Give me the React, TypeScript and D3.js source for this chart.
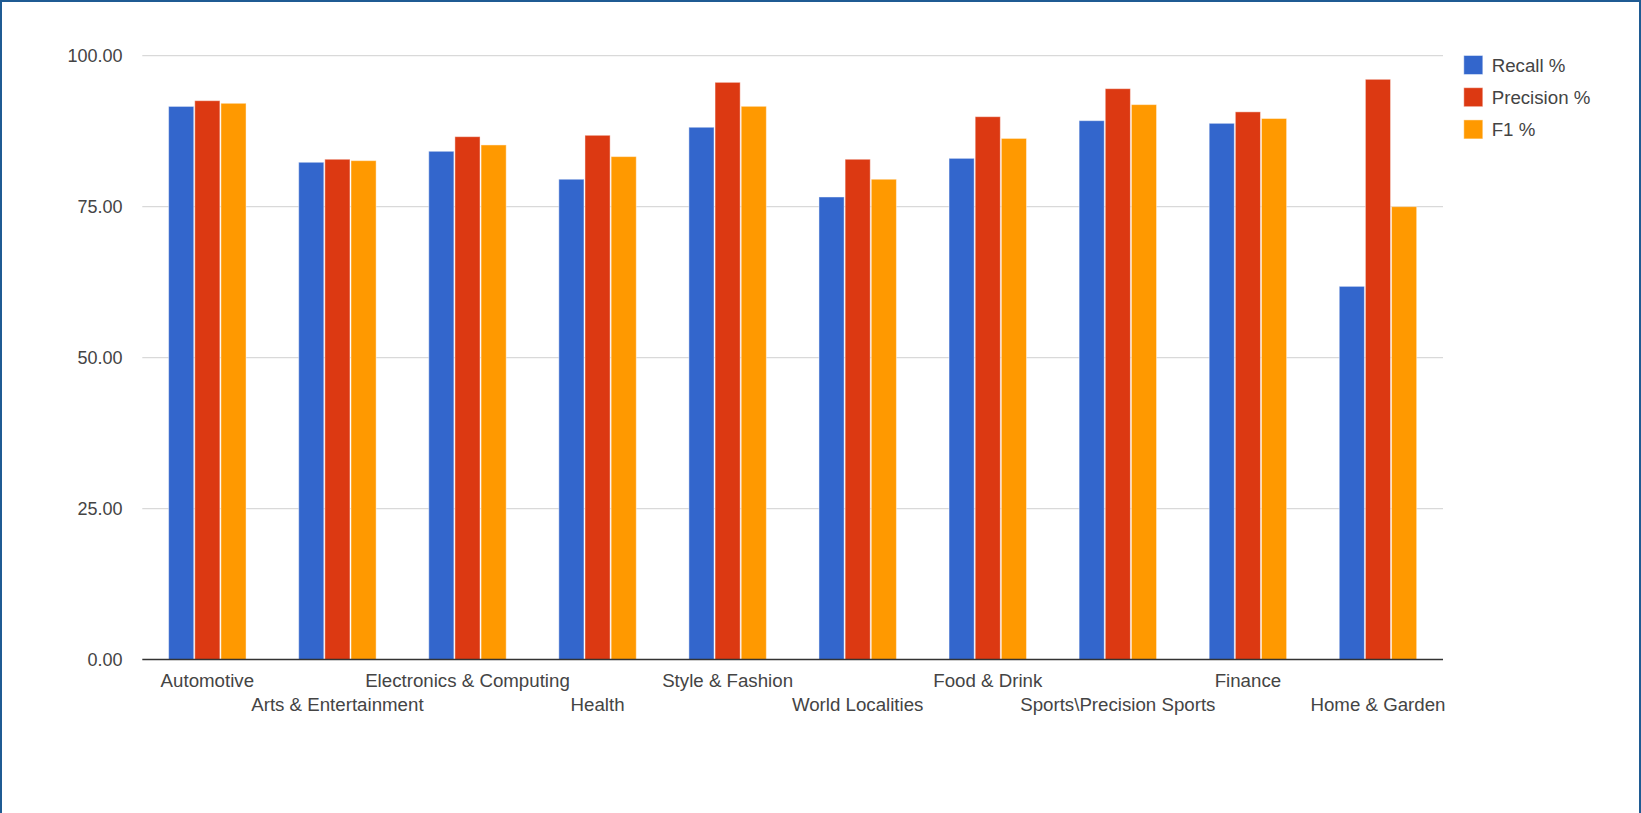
import React from "react";
import * as d3 from "d3";

const categories = [
  "Automotive",
  "Arts & Entertainment",
  "Electronics & Computing",
  "Health",
  "Style & Fashion",
  "World Localities",
  "Food & Drink",
  "Sports\\Precision Sports",
  "Finance",
  "Home & Garden",
];
const seriesNames = ["Recall %", "Precision %", "F1 %"];
const recall = [91.6, 82.35, 84.17, 79.54, 88.15, 76.6, 83.0, 89.24, 88.8, 61.8];
const precision = [92.55, 82.85, 86.59, 86.82, 95.59, 82.85, 89.9, 94.54, 90.7, 96.09];
const f1 = [92.12, 82.62, 85.22, 83.29, 91.62, 79.54, 86.3, 91.9, 89.6, 75.0];
const yTicks = [0, 25, 50, 75, 100];
const colors = ["#3366cc", "#dc3912", "#ff9900"];

const W = 1641;
const H = 813;
const plotLeft = 142.3;
const plotRight = 1443;
const plotTop = 55.7;
const plotBottom = 659.5;
const FONT = "'Liberation Sans', Arial, sans-serif";

export default function App() {
  const series = [recall, precision, f1];
  const x = d3.scaleBand<string>().domain(categories).range([plotLeft, plotRight]).padding(0);
  const y = d3.scaleLinear().domain([0, 100]).range([plotBottom, plotTop]);
  const groupW = x.bandwidth() * 0.603;
  const x1 = d3
    .scaleBand<string>()
    .domain(seriesNames)
    .range([0, groupW])
    .padding(0);
  const fmt = d3.format(".2f");

  return (
    <svg
      width={W}
      height={H}
      style={{ position: "absolute", left: 0, top: 0, display: "block", background: "#fff" }}
      fontFamily={FONT}
    >
      <rect x={0} y={0} width={W} height={H} fill="#fff" />
      {/* gridlines */}
      {yTicks.map((t) =>
        t === 0 ? null : (
          <line
            key={"g" + t}
            x1={plotLeft}
            x2={plotRight}
            y1={y(t)}
            y2={y(t)}
            stroke="#d9d9d9"
            strokeWidth={1.3}
          />
        )
      )}
      {/* y labels */}
      {yTicks.map((t) => (
        <text
          key={"yl" + t}
          x={122.5}
          y={y(t)}
          dy="0.35em"
          textAnchor="end"
          fontSize={18}
          fill="#444"
        >
          {fmt(t)}
        </text>
      ))}
      {/* bars */}
      {categories.map((c, i) => {
        const gx = (x(c) as number) + (x.bandwidth() - groupW) / 2;
        return (
          <g key={c}>
            {series.map((s, j) => {
              const bx = gx + (x1(seriesNames[j]) as number);
              const top = y(s[i]);
              return (
                <rect
                  key={j}
                  x={bx + 0.5}
                  y={top}
                  width={x1.bandwidth() - 1}
                  height={plotBottom - top}
                  fill={colors[j]}
                  stroke="#ffffff"
                  strokeOpacity={0.45}
                  strokeWidth={1}
                />
              );
            })}
          </g>
        );
      })}
      {/* baseline */}
      <line x1={plotLeft} x2={plotRight} y1={plotBottom} y2={plotBottom} stroke="#333" strokeWidth={1.3} />
      {/* x labels */}
      {categories.map((c, i) => (
        <text
          key={"xl" + c}
          x={(x(c) as number) + x.bandwidth() / 2}
          y={i % 2 === 0 ? 686.7 : 711}
          textAnchor="middle"
          fontSize={18.7}
          fill="#444"
        >
          {c}
        </text>
      ))}
      {/* legend */}
      {seriesNames.map((n, j) => (
        <g key={n} transform={`translate(1463.3, ${55 + j * 32.2})`}>
          <rect x={0.5} y={0.5} width={19} height={19} fill={colors[j]} stroke="#fff" strokeOpacity={0.45} />
          <text x={28.4} y={10} dy="0.35em" fontSize={18.7} fill="#444">
            {n}
          </text>
        </g>
      ))}
      {/* frame */}
      <line x1={0} x2={W} y1={1} y2={1} stroke="#1f5b93" strokeWidth={2} />
      <line x1={1} x2={1} y1={0} y2={H} stroke="#1f5b93" strokeWidth={2} />
      <line x1={W - 1} x2={W - 1} y1={0} y2={H} stroke="#1f5b93" strokeWidth={2} />
    </svg>
  );
}
